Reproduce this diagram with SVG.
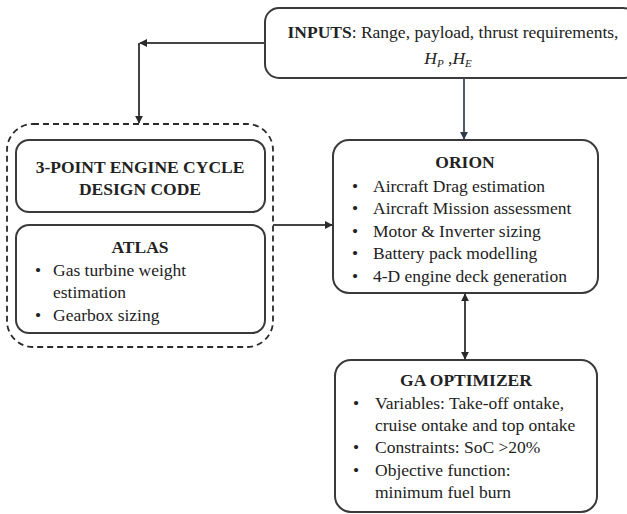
<svg xmlns="http://www.w3.org/2000/svg" width="627" height="514" viewBox="0 0 627 514">
<defs>
<marker id="arr" viewBox="0 0 10 10" refX="9" refY="5" markerWidth="8" markerHeight="8" markerUnits="userSpaceOnUse" orient="auto-start-reverse">
<path d="M0,0 L10,5 L0,10 z" fill="#2a2a2a"/>
</marker>
<marker id="arrb" viewBox="0 0 10 10" refX="9" refY="5" markerWidth="8" markerHeight="8" markerUnits="userSpaceOnUse" orient="auto">
<path d="M0,0 L10,5 L0,10 z" fill="#2f3a4a"/>
</marker>
</defs>
<style>
.box{fill:#fff;stroke:#3a3a3a;stroke-width:2}
.dash{fill:none;stroke:#2a2a2a;stroke-width:1.8;stroke-dasharray:6 4}
text{font-family:'Liberation Serif','DejaVu Serif',serif;font-size:17.5px;fill:#222}
.b{font-weight:bold}
.c{text-anchor:middle}
.ln{fill:none;stroke:#444;stroke-width:2}
</style>
<rect width="627" height="514" fill="#fff"/>

<g id="inputs">
<rect class="box" x="265" y="8" width="372" height="70" rx="14"/>
<text class="c" x="453" y="38" font-size="18"><tspan class="b">INPUTS</tspan>: Range, payload, thrust requirements,</text>
<text class="c" x="448" y="64" font-style="italic">H<tspan font-size="11" dy="3">P</tspan><tspan dy="-3"> ,H</tspan><tspan font-size="11" dy="3">E</tspan></text>
</g>

<g id="group-left">
<rect class="dash" x="7" y="124" width="266" height="223" rx="26"/>
</g>

<g id="cycle">
<rect class="box" x="16" y="140" width="249" height="72" rx="13"/>
<text class="b c" x="140" y="173">3-POINT ENGINE CYCLE</text>
<text class="b c" x="140" y="195">DESIGN CODE</text>
</g>

<g id="atlas">
<rect class="box" x="16" y="225" width="249" height="108" rx="13"/>
<text class="b c" x="140" y="253">ATLAS</text>
<text x="35" y="276">•</text>
<text x="53" y="276">Gas turbine weight</text>
<text x="53" y="298">estimation</text>
<text x="35" y="321">•</text>
<text x="53" y="321">Gearbox sizing</text>
</g>

<g id="orion">
<rect class="box" x="333" y="140" width="265" height="153" rx="16"/>
<text class="b c" x="465" y="168">ORION</text>
<text x="352" y="192">•</text><text x="373" y="192">Aircraft Drag estimation</text>
<text x="352" y="214">•</text><text x="373" y="214">Aircraft Mission assessment</text>
<text x="352" y="237">•</text><text x="373" y="237">Motor &amp; Inverter sizing</text>
<text x="352" y="259">•</text><text x="373" y="259">Battery pack modelling</text>
<text x="352" y="282">•</text><text x="373" y="282">4-D engine deck generation</text>
</g>

<g id="ga">
<rect class="box" x="335" y="360" width="262" height="152" rx="16"/>
<text class="b c" x="466" y="386">GA OPTIMIZER</text>
<text x="353" y="409">•</text><text x="375" y="409">Variables: Take-off ontake,</text>
<text x="375" y="431">cruise ontake and top ontake</text>
<text x="353" y="453">•</text><text x="375" y="453">Constraints: SoC &gt;20%</text>
<text x="353" y="476">•</text><text x="375" y="476">Objective function:</text>
<text x="375" y="498">minimum fuel burn</text>
</g>

<g id="connectors">
<line class="ln" x1="265" y1="43" x2="140" y2="43" marker-end="url(#arr)"/>
<line class="ln" x1="139" y1="43" x2="139" y2="123" marker-end="url(#arr)"/>
<line x1="464" y1="78" x2="464" y2="139" stroke="#3c4a5c" stroke-width="1.8" marker-end="url(#arrb)"/>
<line class="ln" x1="273" y1="225" x2="332" y2="225" marker-end="url(#arr)"/>
<line class="ln" x1="465" y1="294" x2="465" y2="359" marker-start="url(#arr)" marker-end="url(#arr)"/>
</g>
</svg>
